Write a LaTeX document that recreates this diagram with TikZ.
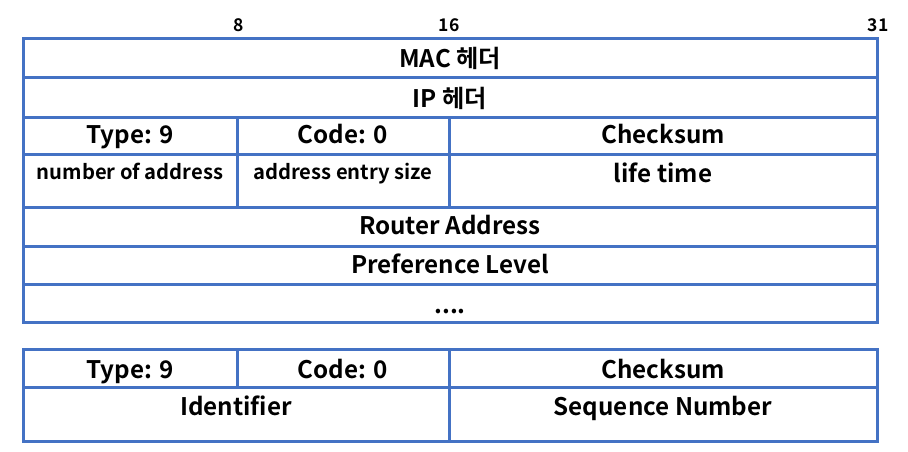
\documentclass[tikz,border=0pt]{standalone}
\usepackage{fontspec}
\setmainfont{Noto Sans CJK KR}[BoldFont={Noto Sans CJK KR Bold}]
\usetikzlibrary{positioning}
\definecolor{fieldblue}{HTML}{4472C4}

\tikzset{
  boxline/.style={draw=fieldblue, line width=3pt},
  field/.style={font=\fontsize{24.2}{27}\selectfont\bfseries, anchor=base, inner sep=0pt},
  subfield/.style={font=\fontsize{20.2}{23}\selectfont\bfseries, anchor=base, inner sep=0pt},
  bitno/.style={font=\fontsize{17.5}{20}\selectfont\bfseries, anchor=base, inner sep=0pt}
}

\begin{document}
\begin{tikzpicture}[x=1pt,y=-1pt]
    \useasboundingbox (0,0) rectangle (908,452);

    % bit positions
    \node[bitno] (bit8) at (239,32) {8};
    \node[bitno] (bit16) at (449,32) {16};
    \node[bitno] (bit31) at (878,32) {31};

    % advertisement message
    \draw[boxline] (23,39) rectangle (877,322);
    \foreach \y in {78,117,154,207,246,284}
        \draw[boxline] (23,\y) -- (877,\y);
    \draw[boxline] (237,117) -- (237,207);
    \draw[boxline] (449,117) -- (449,207);

    \node[field] (mac) at (450,68) {MAC 헤더};
    \node[field] (ip) at (450,107) {IP 헤더};
    \node[field] (type) at (130,143) {Type: 9};
    \node[field] (code) at (343,143) {Code: 0};
    \node[field] (checksum) at (663,143) {Checksum};
    \node[subfield] (numaddr) at (130,179) {number of address};
    \node[subfield] (entrysize) at (343,179) {address entry size};
    \node[field] (lifetime) at (663,182) {life time};
    \node[field] (router) at (450,234) {Router Address};
    \node[field] (pref) at (450,273) {Preference Level};
    \node[field] (more) at (450,313) {....};

    % solicitation message
    \draw[boxline] (23,349) rectangle (877,441);
    \draw[boxline] (23,387) -- (877,387);
    \draw[boxline] (237,349) -- (237,387);
    \draw[boxline] (449,349) -- (449,441);

    \node[field] (type2) at (130,378) {Type: 9};
    \node[field] (code2) at (343,378) {Code: 0};
    \node[field] (checksum2) at (663,378) {Checksum};
    \node[field] (ident) at (236,415) {Identifier};
    \node[field] (seqno) at (663,415) {Sequence Number};
\end{tikzpicture}
\end{document}
